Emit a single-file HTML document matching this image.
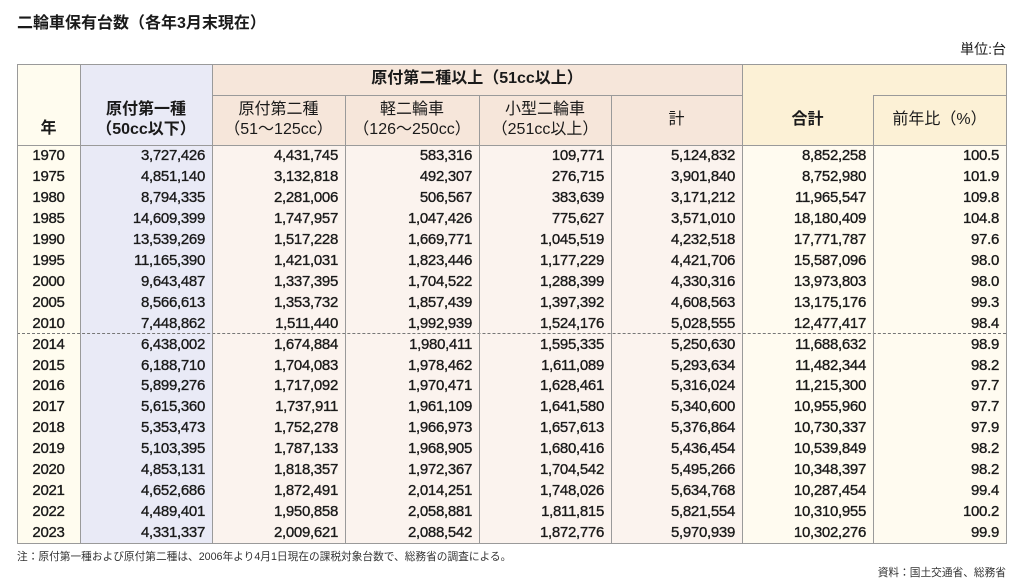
<!DOCTYPE html>
<html><head><meta charset="utf-8"><style>
body{margin:0;width:1024px;height:588px;background:#fff;font-family:"Liberation Sans","Noto Sans CJK JP",sans-serif;color:#1a1a1a;position:relative;overflow:hidden}
.t{position:absolute;left:17px;font-size:16px;font-weight:bold;top:9px}
.u{position:absolute;right:18px;top:39px;font-size:14px}
.bg{position:absolute}
.hd{position:absolute;text-align:center;font-size:16px;line-height:20px}
.v{position:absolute;border-left:1px solid #9a9a9a}
.h{position:absolute;border-top:1px solid #9a9a9a}
.r{position:absolute;height:20px;line-height:20px;font-size:15px;letter-spacing:-0.3px;-webkit-text-stroke:0.35px #1a1a1a}
.r span{position:absolute;text-align:right}
.note{position:absolute;font-size:10.7px;color:#333}
</style></head><body>
<div class="t">二輪車保有台数（各年3月末現在）</div>
<div class="u">単位:台</div>
<div class="bg" style="left:17px;top:64px;width:63px;height:480px;background:#fffcef"></div>
<div class="bg" style="left:80px;top:64px;width:132px;height:480px;background:#e9eaf6"></div>
<div class="bg" style="left:212px;top:64px;width:530px;height:81px;background:#f6e6da"></div>
<div class="bg" style="left:212px;top:145px;width:530px;height:399px;background:#fbf3ee"></div>
<div class="bg" style="left:742px;top:64px;width:264px;height:81px;background:#fcf1d6"></div>
<div class="bg" style="left:742px;top:145px;width:264px;height:399px;background:#fffbf0"></div>
<div class="h" style="left:17px;top:64px;width:989px"></div>
<div class="h" style="left:212px;top:95px;width:530px"></div>
<div class="h" style="left:873px;top:95px;width:133px"></div>
<div class="h" style="left:17px;top:145px;width:989px"></div>
<div class="h" style="left:17px;top:333px;width:989px;border-top:1px dashed #777"></div>
<div class="h" style="left:17px;top:543px;width:989px"></div>
<div class="v" style="left:17px;top:64px;height:480px"></div>
<div class="v" style="left:80px;top:64px;height:480px"></div>
<div class="v" style="left:212px;top:64px;height:480px"></div>
<div class="v" style="left:345px;top:95px;height:449px"></div>
<div class="v" style="left:479px;top:95px;height:449px"></div>
<div class="v" style="left:611px;top:95px;height:449px"></div>
<div class="v" style="left:742px;top:64px;height:480px"></div>
<div class="v" style="left:873px;top:95px;height:449px"></div>
<div class="v" style="left:1006px;top:64px;height:480px"></div>
<div class="hd" style="left:212px;width:530px;top:69px;font-weight:bold">原付第二種以上（51cc以上）</div>
<div class="hd" style="left:17px;width:63px;top:119px;font-weight:bold">年</div>
<div class="hd" style="left:80px;width:132px;top:100px;font-weight:bold">原付第一種<br>（50cc以下）</div>
<div class="hd" style="left:212px;width:133px;top:100px">原付第二種<br>（51〜125cc）</div>
<div class="hd" style="left:345px;width:134px;top:100px">軽二輪車<br>（126〜250cc）</div>
<div class="hd" style="left:479px;width:132px;top:100px">小型二輪車<br>（251cc以上）</div>
<div class="hd" style="left:611px;width:131px;top:110px">計</div>
<div class="hd" style="left:742px;width:131px;top:110px;font-weight:bold">合計</div>
<div class="hd" style="left:873px;width:133px;top:110px">前年比（%）</div>
<div id="rows"></div>
<script>
var d=[
["1970","3,727,426","4,431,745","583,316","109,771","5,124,832","8,852,258","100.5"],
["1975","4,851,140","3,132,818","492,307","276,715","3,901,840","8,752,980","101.9"],
["1980","8,794,335","2,281,006","506,567","383,639","3,171,212","11,965,547","109.8"],
["1985","14,609,399","1,747,957","1,047,426","775,627","3,571,010","18,180,409","104.8"],
["1990","13,539,269","1,517,228","1,669,771","1,045,519","4,232,518","17,771,787","97.6"],
["1995","11,165,390","1,421,031","1,823,446","1,177,229","4,421,706","15,587,096","98.0"],
["2000","9,643,487","1,337,395","1,704,522","1,288,399","4,330,316","13,973,803","98.0"],
["2005","8,566,613","1,353,732","1,857,439","1,397,392","4,608,563","13,175,176","99.3"],
["2010","7,448,862","1,511,440","1,992,939","1,524,176","5,028,555","12,477,417","98.4"],
["2014","6,438,002","1,674,884","1,980,411","1,595,335","5,250,630","11,688,632","98.9"],
["2015","6,188,710","1,704,083","1,978,462","1,611,089","5,293,634","11,482,344","98.2"],
["2016","5,899,276","1,717,092","1,970,471","1,628,461","5,316,024","11,215,300","97.7"],
["2017","5,615,360","1,737,911","1,961,109","1,641,580","5,340,600","10,955,960","97.7"],
["2018","5,353,473","1,752,278","1,966,973","1,657,613","5,376,864","10,730,337","97.9"],
["2019","5,103,395","1,787,133","1,968,905","1,680,416","5,436,454","10,539,849","98.2"],
["2020","4,853,131","1,818,357","1,972,367","1,704,542","5,495,266","10,348,397","98.2"],
["2021","4,652,686","1,872,491","2,014,251","1,748,026","5,634,768","10,287,454","99.4"],
["2022","4,489,401","1,950,858","2,058,881","1,811,815","5,821,554","10,310,955","100.2"],
["2023","4,331,337","2,009,621","2,088,542","1,872,776","5,970,939","10,302,276","99.9"]];
var rt=[80,212,345,479,611,742,873,1006],h="";
d.forEach(function(r,i){var top=146+i*20.95;h+='<div class="r" style="top:'+top+'px;left:0;width:1024px">';
h+='<span style="left:17px;width:63px;text-align:center">'+r[0]+'</span>';
for(var j=1;j<8;j++)h+='<span style="left:'+(rt[j-1])+'px;width:'+(rt[j]-rt[j-1]-7)+'px">'+r[j]+'</span>';
h+='</div>';});
document.getElementById('rows').innerHTML=h;
</script>
<div class="note" style="left:17px;top:549px">注：原付第一種および原付第二種は、2006年より4月1日現在の課税対象台数で、総務省の調査による。</div>
<div class="note" style="right:18px;top:565px">資料：国土交通省、総務省</div>
</body></html>
